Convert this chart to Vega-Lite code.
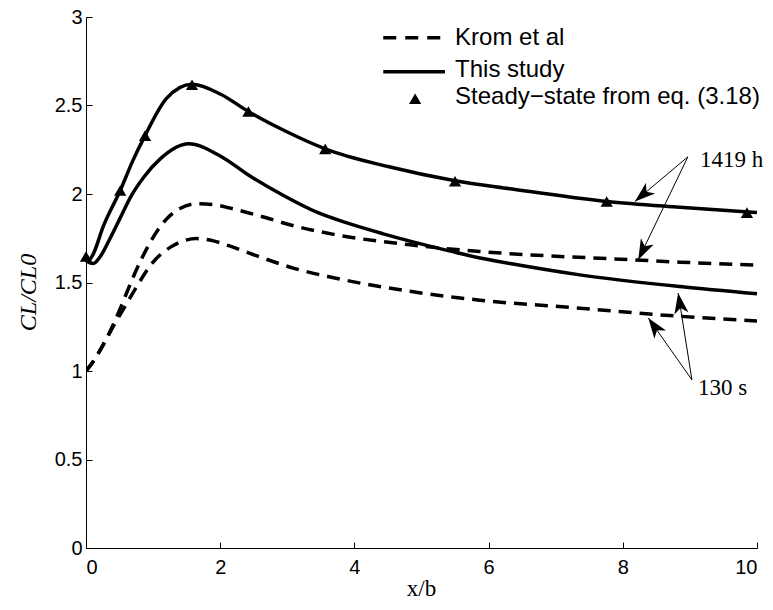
{
  "$schema": "https://vega.github.io/schema/vega-lite/v6.json",
  "width": 671,
  "height": 531,
  "autosize": {"type": "none"},
  "padding": {"left": 86, "top": 17, "right": 16, "bottom": 62},
  "background": "white",
  "config": {
    "view": {"stroke": null},
    "axis": {
      "grid": false,
      "domainColor": "black",
      "domainWidth": 1,
      "tickColor": "black",
      "tickWidth": 1,
      "tickSize": -6,
      "labelColor": "black",
      "labelFont": "Liberation Sans",
      "labelFontSize": 20,
      "labelExpr": "'' + datum.value",
      "titleColor": "black",
      "titleFontWeight": "normal"
    }
  },
  "datasets": {
    "study": [
      {"case": "1419 h", "x": 0, "y": 1.64},
      {"case": "1419 h", "x": 0.04, "y": 1.625},
      {"case": "1419 h", "x": 0.1, "y": 1.655},
      {"case": "1419 h", "x": 0.26, "y": 1.82},
      {"case": "1419 h", "x": 0.51, "y": 2.02},
      {"case": "1419 h", "x": 0.7, "y": 2.19},
      {"case": "1419 h", "x": 0.88, "y": 2.33},
      {"case": "1419 h", "x": 1.2, "y": 2.54},
      {"case": "1419 h", "x": 1.58, "y": 2.62},
      {"case": "1419 h", "x": 2.0, "y": 2.565},
      {"case": "1419 h", "x": 2.42, "y": 2.466},
      {"case": "1419 h", "x": 3.0, "y": 2.35},
      {"case": "1419 h", "x": 3.565, "y": 2.255},
      {"case": "1419 h", "x": 4.5, "y": 2.155},
      {"case": "1419 h", "x": 5.5, "y": 2.075},
      {"case": "1419 h", "x": 6.32, "y": 2.03},
      {"case": "1419 h", "x": 7.76, "y": 1.958},
      {"case": "1419 h", "x": 8.85, "y": 1.925},
      {"case": "1419 h", "x": 10, "y": 1.895},
      {"case": "130 s", "x": 0, "y": 1.625},
      {"case": "130 s", "x": 0.05, "y": 1.612},
      {"case": "130 s", "x": 0.11, "y": 1.607},
      {"case": "130 s", "x": 0.21, "y": 1.645},
      {"case": "130 s", "x": 0.36, "y": 1.75},
      {"case": "130 s", "x": 0.51, "y": 1.865},
      {"case": "130 s", "x": 0.66, "y": 1.98},
      {"case": "130 s", "x": 0.86, "y": 2.095},
      {"case": "130 s", "x": 1.11, "y": 2.2},
      {"case": "130 s", "x": 1.53, "y": 2.284},
      {"case": "130 s", "x": 2.0, "y": 2.215},
      {"case": "130 s", "x": 2.45, "y": 2.1},
      {"case": "130 s", "x": 2.95, "y": 1.99},
      {"case": "130 s", "x": 3.44, "y": 1.897},
      {"case": "130 s", "x": 3.9, "y": 1.835},
      {"case": "130 s", "x": 4.43, "y": 1.775},
      {"case": "130 s", "x": 5.43, "y": 1.677},
      {"case": "130 s", "x": 5.87, "y": 1.638},
      {"case": "130 s", "x": 6.32, "y": 1.607},
      {"case": "130 s", "x": 7.36, "y": 1.543},
      {"case": "130 s", "x": 8.85, "y": 1.477},
      {"case": "130 s", "x": 10, "y": 1.436}
    ],
    "krom": [
      {"case": "1419 h", "x": 0, "y": 1.0},
      {"case": "1419 h", "x": 0.1, "y": 1.05},
      {"case": "1419 h", "x": 0.26, "y": 1.15},
      {"case": "1419 h", "x": 0.41, "y": 1.265},
      {"case": "1419 h", "x": 0.54, "y": 1.38},
      {"case": "1419 h", "x": 0.68, "y": 1.51},
      {"case": "1419 h", "x": 0.83, "y": 1.635},
      {"case": "1419 h", "x": 1.0, "y": 1.755},
      {"case": "1419 h", "x": 1.23, "y": 1.87},
      {"case": "1419 h", "x": 1.4, "y": 1.918},
      {"case": "1419 h", "x": 1.65, "y": 1.945},
      {"case": "1419 h", "x": 1.9, "y": 1.94},
      {"case": "1419 h", "x": 2.15, "y": 1.92},
      {"case": "1419 h", "x": 2.6, "y": 1.875},
      {"case": "1419 h", "x": 3.1, "y": 1.82},
      {"case": "1419 h", "x": 3.69, "y": 1.772},
      {"case": "1419 h", "x": 4.83, "y": 1.713},
      {"case": "1419 h", "x": 5.87, "y": 1.675},
      {"case": "1419 h", "x": 6.32, "y": 1.663},
      {"case": "1419 h", "x": 8.16, "y": 1.628},
      {"case": "1419 h", "x": 8.85, "y": 1.615},
      {"case": "1419 h", "x": 10, "y": 1.598},
      {"case": "130 s", "x": 0, "y": 1.0},
      {"case": "130 s", "x": 0.1, "y": 1.05},
      {"case": "130 s", "x": 0.26, "y": 1.15},
      {"case": "130 s", "x": 0.41, "y": 1.255},
      {"case": "130 s", "x": 0.61, "y": 1.383},
      {"case": "130 s", "x": 0.76, "y": 1.48},
      {"case": "130 s", "x": 1.0, "y": 1.615},
      {"case": "130 s", "x": 1.26, "y": 1.7},
      {"case": "130 s", "x": 1.4, "y": 1.728},
      {"case": "130 s", "x": 1.65, "y": 1.748},
      {"case": "130 s", "x": 1.9, "y": 1.735},
      {"case": "130 s", "x": 2.15, "y": 1.705},
      {"case": "130 s", "x": 2.55, "y": 1.65},
      {"case": "130 s", "x": 3.1, "y": 1.58},
      {"case": "130 s", "x": 3.69, "y": 1.527},
      {"case": "130 s", "x": 4.83, "y": 1.45},
      {"case": "130 s", "x": 5.87, "y": 1.4},
      {"case": "130 s", "x": 7.36, "y": 1.355},
      {"case": "130 s", "x": 8.56, "y": 1.317},
      {"case": "130 s", "x": 10, "y": 1.283}
    ],
    "steady": [
      {"x": 0, "y": 1.647},
      {"x": 0.51, "y": 2.02},
      {"x": 0.88, "y": 2.33},
      {"x": 1.58, "y": 2.617},
      {"x": 2.42, "y": 2.466},
      {"x": 3.565, "y": 2.255},
      {"x": 5.5, "y": 2.072},
      {"x": 7.76, "y": 1.958},
      {"x": 9.85, "y": 1.895}
    ],
    "arrows": [
      {"x": 8.97, "y": 2.21, "x2": 8.18, "y2": 1.958, "angle": 229.8},
      {"x": 8.97, "y": 2.21, "x2": 8.23, "y2": 1.628, "angle": 206.1},
      {"x": 9.03, "y": 0.95, "x2": 8.38, "y2": 1.3, "angle": 324.6},
      {"x": 9.03, "y": 0.95, "x2": 8.825, "y2": 1.44, "angle": 350.9}
    ],
    "notes": [
      {"x": 9.15, "y": 2.19, "label": "1419 h"},
      {"x": 9.12, "y": 0.905, "label": "130 s"}
    ],
    "legendLines": [
      {"x": 4.43, "x2": 5.35, "y": 2.883, "kind": "Krom et al"},
      {"x": 4.43, "x2": 5.35, "y": 2.691, "kind": "This study"}
    ],
    "legendMarker": [
      {"x": 4.905, "y": 2.538}
    ],
    "legendText": [
      {"x": 5.5, "y": 2.883, "label": "Krom et al"},
      {"x": 5.5, "y": 2.7, "label": "This study"},
      {"x": 5.5, "y": 2.55, "label": "Steady−state from eq. (3.18)"}
    ]
  },
  "layer": [
    {
      "data": {"name": "krom"},
      "mark": {"type": "line", "color": "black", "strokeWidth": 3.5, "strokeDash": [13, 8], "interpolate": "monotone", "clip": true},
      "encoding": {
        "x": {
          "field": "x", "type": "quantitative",
          "scale": {"domain": [0, 10], "nice": false, "zero": false},
          "axis": {
            "values": [0, 2, 4, 6, 8, 10],
            "labelPadding": 15,
            "title": "x/b",
            "titleFont": "Liberation Serif",
            "titleFontSize": 23,
            "titleX": 335,
            "titleY": 47,
            "titleBaseline": "alphabetic",
            "titleAlign": "center"
          }
        },
        "y": {
          "field": "y", "type": "quantitative",
          "scale": {"domain": [0, 3], "nice": false, "zero": false},
          "axis": {
            "values": [0, 0.5, 1, 1.5, 2, 2.5, 3],
            "labelPadding": 10,
            "title": "CL/CL0",
            "titleFont": "Liberation Serif",
            "titleFontStyle": "italic",
            "titleFontSize": 24,
            "titleAngle": -90,
            "titleX": -51,
            "titleY": 275,
            "titleAlign": "center",
            "titleBaseline": "alphabetic"
          }
        },
        "detail": {"field": "case"}
      }
    },
    {
      "data": {"name": "study"},
      "mark": {"type": "line", "color": "black", "strokeWidth": 3.5, "interpolate": "monotone"},
      "encoding": {
        "x": {"field": "x", "type": "quantitative"},
        "y": {"field": "y", "type": "quantitative"},
        "detail": {"field": "case"}
      }
    },
    {
      "data": {"name": "steady"},
      "mark": {"type": "point", "shape": "triangle-up", "filled": true, "color": "black", "opacity": 1, "size": 150},
      "encoding": {
        "x": {"field": "x", "type": "quantitative"},
        "y": {"field": "y", "type": "quantitative"}
      }
    },
    {
      "data": {"name": "arrows"},
      "mark": {"type": "rule", "color": "black", "strokeWidth": 1},
      "encoding": {
        "x": {"field": "x", "type": "quantitative"},
        "y": {"field": "y", "type": "quantitative"},
        "x2": {"field": "x2"},
        "y2": {"field": "y2"}
      }
    },
    {
      "data": {"name": "arrows"},
      "mark": {"type": "point", "shape": "M0,0L0.45,1.3L0,0.95L-0.45,1.3Z", "filled": true, "color": "black", "opacity": 1, "size": 1000},
      "encoding": {
        "x": {"field": "x2", "type": "quantitative"},
        "y": {"field": "y2", "type": "quantitative"},
        "angle": {"field": "angle", "type": "quantitative", "scale": null}
      }
    },
    {
      "data": {"name": "notes"},
      "mark": {"type": "text", "align": "left", "baseline": "middle", "font": "Liberation Serif", "fontSize": 23, "color": "black"},
      "encoding": {
        "x": {"field": "x", "type": "quantitative"},
        "y": {"field": "y", "type": "quantitative"},
        "text": {"field": "label"}
      }
    },
    {
      "data": {"name": "legendLines"},
      "mark": {"type": "rule", "color": "black", "strokeWidth": 3.5},
      "encoding": {
        "x": {"field": "x", "type": "quantitative"},
        "x2": {"field": "x2"},
        "y": {"field": "y", "type": "quantitative"},
        "strokeDash": {
          "field": "kind", "type": "nominal",
          "scale": {"domain": ["Krom et al", "This study"], "range": [[13, 9], [1, 0]]},
          "legend": null
        }
      }
    },
    {
      "data": {"name": "legendMarker"},
      "mark": {"type": "point", "shape": "triangle-up", "filled": true, "color": "black", "opacity": 1, "size": 150},
      "encoding": {
        "x": {"field": "x", "type": "quantitative"},
        "y": {"field": "y", "type": "quantitative"}
      }
    },
    {
      "data": {"name": "legendText"},
      "mark": {"type": "text", "align": "left", "baseline": "middle", "font": "Liberation Sans", "fontSize": 24, "color": "black"},
      "encoding": {
        "x": {"field": "x", "type": "quantitative"},
        "y": {"field": "y", "type": "quantitative"},
        "text": {"field": "label"}
      }
    }
  ]
}
